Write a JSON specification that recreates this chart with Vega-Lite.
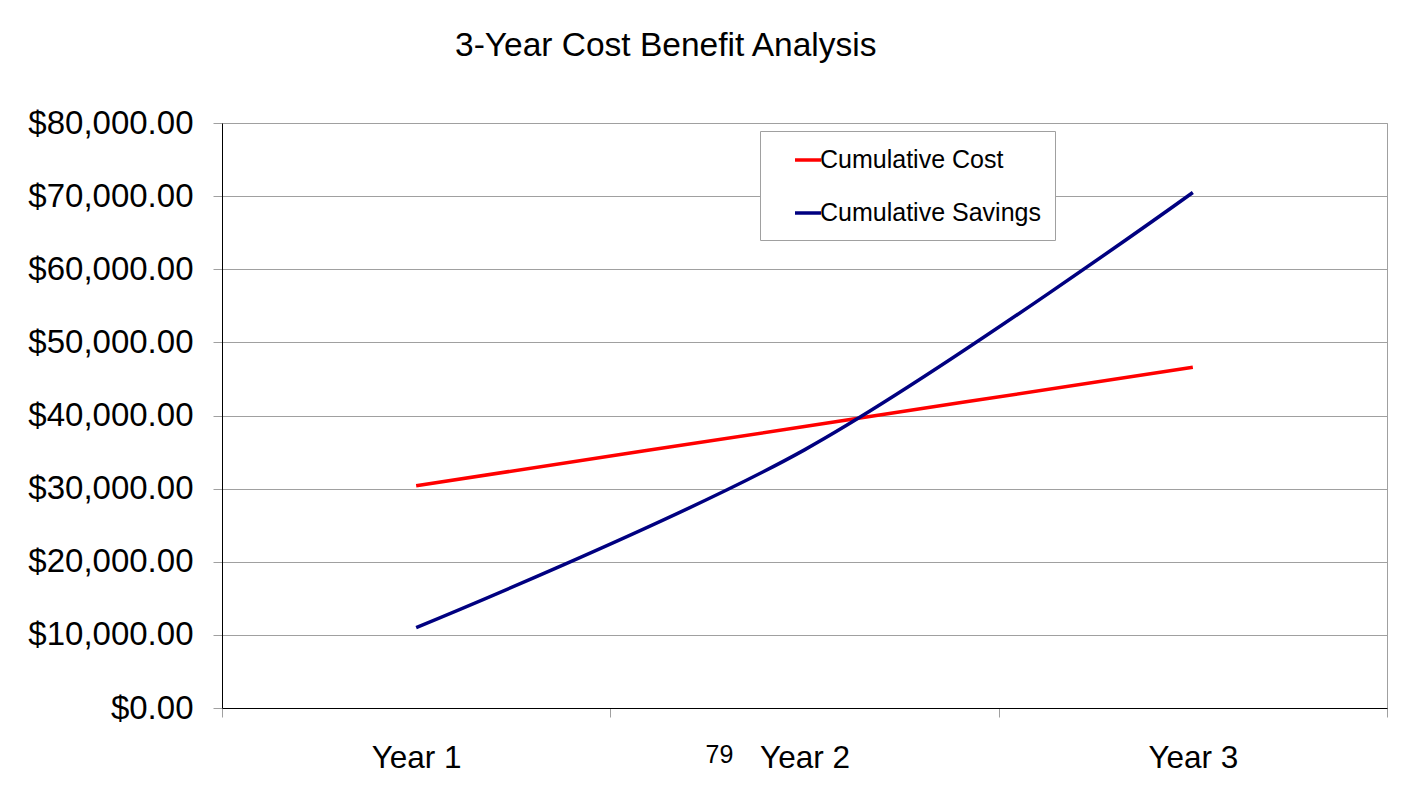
{
  "$schema": "https://vega.github.io/schema/vega-lite/v6.json",
  "width": 1165,
  "height": 585,
  "autosize": "none",
  "padding": {"left": 222, "top": 123, "right": 33, "bottom": 85},
  "background": "white",
  "config": {
    "font": "Liberation Sans",
    "view": {"stroke": "#a0a0a0", "strokeWidth": 1}
  },
  "title": {
    "text": "3-Year Cost Benefit Analysis",
    "anchor": "start",
    "frame": "group",
    "dx": 233,
    "fontSize": 33.5,
    "fontWeight": "normal",
    "color": "black",
    "font": "Liberation Sans",
    "baseline": "alphabetic",
    "offset": 18
  },
  "datasets": {
    "series": [
      {"Year": "Year 1", "Series": "Cumulative Cost", "Value": 30400},
      {"Year": "Year 2", "Series": "Cumulative Cost", "Value": 38500},
      {"Year": "Year 3", "Series": "Cumulative Cost", "Value": 46600},
      {"Year": "Year 1", "Series": "Cumulative Savings", "Value": 11000},
      {"Year": "Year 2", "Series": "Cumulative Savings", "Value": 35300},
      {"Year": "Year 3", "Series": "Cumulative Savings", "Value": 70500}
    ],
    "notes": [
      {"Year": "Year 2", "note": "79"}
    ]
  },
  "layer": [
    {
      "data": {"name": "series"},
      "mark": {"type": "line", "interpolate": "catmull-rom", "strokeWidth": 3.5},
      "encoding": {
        "x": {
          "field": "Year",
          "type": "ordinal",
          "bandPosition": 0.5,
          "scale": {"type": "band", "paddingInner": 0, "paddingOuter": 0, "domain": ["Year 1", "Year 2", "Year 3"]},
          "axis": {
            "title": null,
            "labelAngle": 0,
            "domainColor": "black",
            "domainWidth": 1,
            "tickColor": "#a0a0a0",
            "tickSize": 9,
            "tickBand": "extent",
            "labelPadding": 25,
            "labelFontSize": 31.5,
            "labelColor": "black",
            "labelFont": "Liberation Sans",
            "grid": false
          }
        },
        "y": {
          "field": "Value",
          "type": "quantitative",
          "scale": {"domain": [0, 80000], "nice": false},
          "axis": {
            "title": null,
            "values": [0, 10000, 20000, 30000, 40000, 50000, 60000, 70000, 80000],
            "format": "$,.2f",
            "domainColor": "black",
            "tickColor": "#a0a0a0",
            "tickSize": 9,
            "labelPadding": 20,
            "labelFontSize": 33,
            "labelColor": "black",
            "labelFont": "Liberation Sans",
            "gridColor": "#a0a0a0",
            "labelOverlap": false
          }
        },
        "color": {
          "field": "Series",
          "type": "nominal",
          "scale": {"domain": ["Cumulative Cost", "Cumulative Savings"], "range": ["#ff0000", "#000080"]},
          "legend": {
            "title": null,
            "orient": "none",
            "legendX": 538,
            "legendY": 8,
            "direction": "vertical",
            "strokeColor": "#a0a0a0",
            "fillColor": "white",
            "padding": 14,
            "symbolType": "stroke",
            "symbolSize": 676,
            "symbolStrokeWidth": 3.5,
            "symbolOffset": 19,
            "labelOffset": -3,
            "labelFontSize": 25,
            "labelLimit": 500,
            "labelFont": "Liberation Sans",
            "labelColor": "black",
            "rowPadding": 25
          }
        }
      }
    },
    {
      "data": {"name": "notes"},
      "mark": {"type": "text", "fontSize": 25, "dx": -85, "dy": 55, "baseline": "alphabetic", "align": "center", "color": "black"},
      "encoding": {
        "x": {"field": "Year", "type": "ordinal", "bandPosition": 0.5},
        "y": {"datum": 0},
        "text": {"field": "note"}
      }
    }
  ]
}
